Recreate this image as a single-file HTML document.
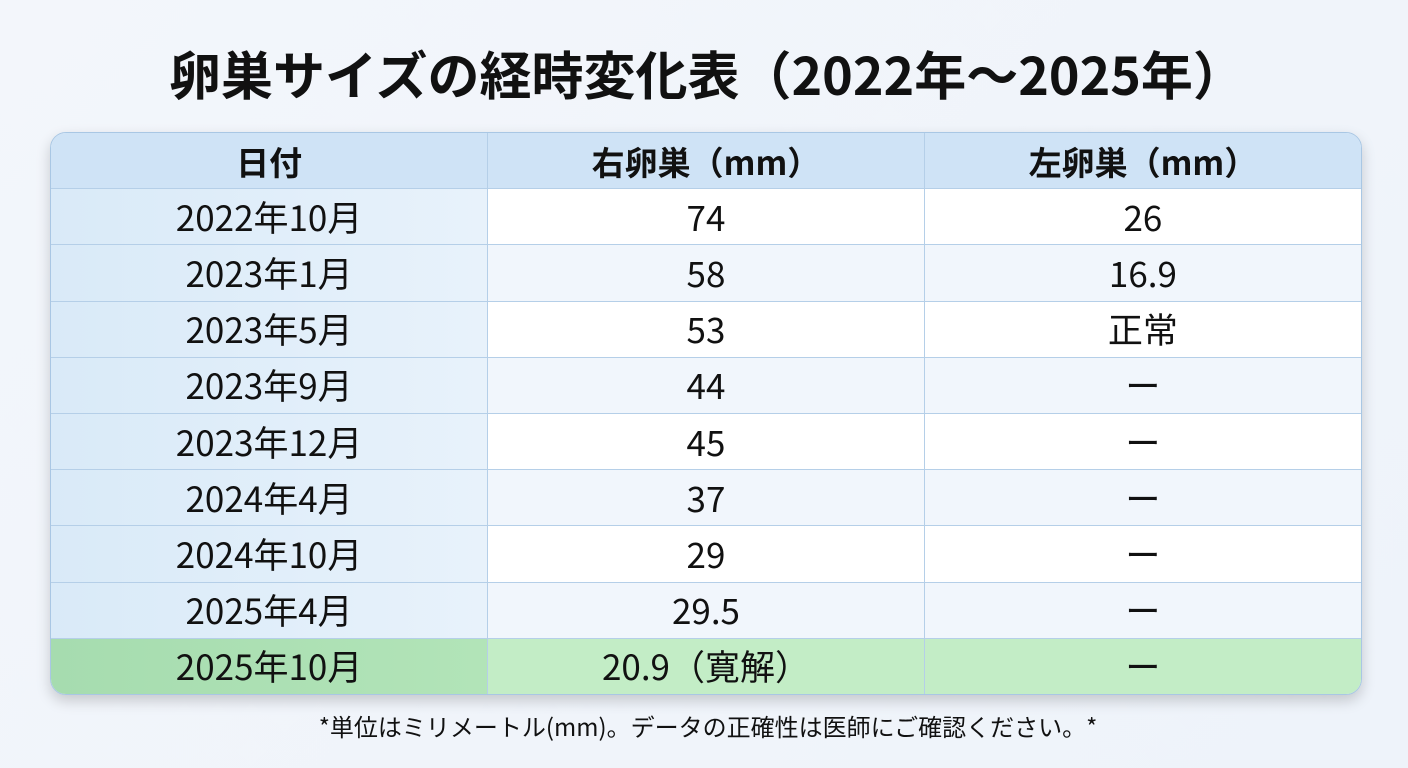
<!DOCTYPE html>
<html><head><meta charset="utf-8"><style>
body{margin:0;width:1408px;height:768px;background:linear-gradient(135deg,#f3f6fb,#eef3fa);font-family:"Noto Sans CJK JP",sans-serif;position:relative;overflow:hidden}
h1{position:absolute;left:14px;width:1386px;top:38px;margin:0;text-align:center;font-size:52px;font-weight:bold;color:#111;line-height:70px;white-space:nowrap}
.t{position:absolute;left:50px;top:132px;width:1310px;border-radius:16px;overflow:hidden;border:1px solid #a9c7e4;box-shadow:0 6px 14px rgba(0,0,0,.18)}
table{border-collapse:collapse;width:100%;table-layout:fixed}
td,th{height:55.2px;border:1px solid #b5cfe8;text-align:center;font-size:35px;color:#111;padding:0;font-weight:normal;line-height:40px}
tr>*:first-child{border-left:none}tr>*:last-child{border-right:none}
tr:first-child>*{border-top:none}tr:last-child>*{border-bottom:none}
th{background:#cfe3f6;font-weight:bold;font-size:33px}
td.c{background:linear-gradient(90deg,#d9eaf8,#e8f2fb)}
tr.w td{background:#fff}tr.b td{background:#f1f6fc}
tr.w td.c,tr.b td.c{background:linear-gradient(90deg,#d9eaf8,#e8f2fb)}
tr.g td{background:#c3edc6}tr.g td.c{background:linear-gradient(90deg,#a6dcaf,#b2e4b8)}
.f{position:absolute;left:0;width:1416px;top:710px;text-align:center;font-size:24px;color:#111;line-height:32px}
</style></head><body>
<h1>卵巣サイズの経時変化表（2022年〜2025年）</h1>
<div class="t"><table>
<tr><th>日付</th><th>右卵巣（mm）</th><th>左卵巣（mm）</th></tr>
<tr class="w"><td class="c">2022年10月</td><td>74</td><td>26</td></tr>
<tr class="b"><td class="c">2023年1月</td><td>58</td><td>16.9</td></tr>
<tr class="w"><td class="c">2023年5月</td><td>53</td><td>正常</td></tr>
<tr class="b"><td class="c">2023年9月</td><td>44</td><td>ー</td></tr>
<tr class="w"><td class="c">2023年12月</td><td>45</td><td>ー</td></tr>
<tr class="b"><td class="c">2024年4月</td><td>37</td><td>ー</td></tr>
<tr class="w"><td class="c">2024年10月</td><td>29</td><td>ー</td></tr>
<tr class="b"><td class="c">2025年4月</td><td>29.5</td><td>ー</td></tr>
<tr class="g"><td class="c">2025年10月</td><td>20.9（寛解）</td><td>ー</td></tr>
</table></div>
<div class="f">*単位はミリメートル(mm)。データの正確性は医師にご確認ください。*</div>
</body></html>
